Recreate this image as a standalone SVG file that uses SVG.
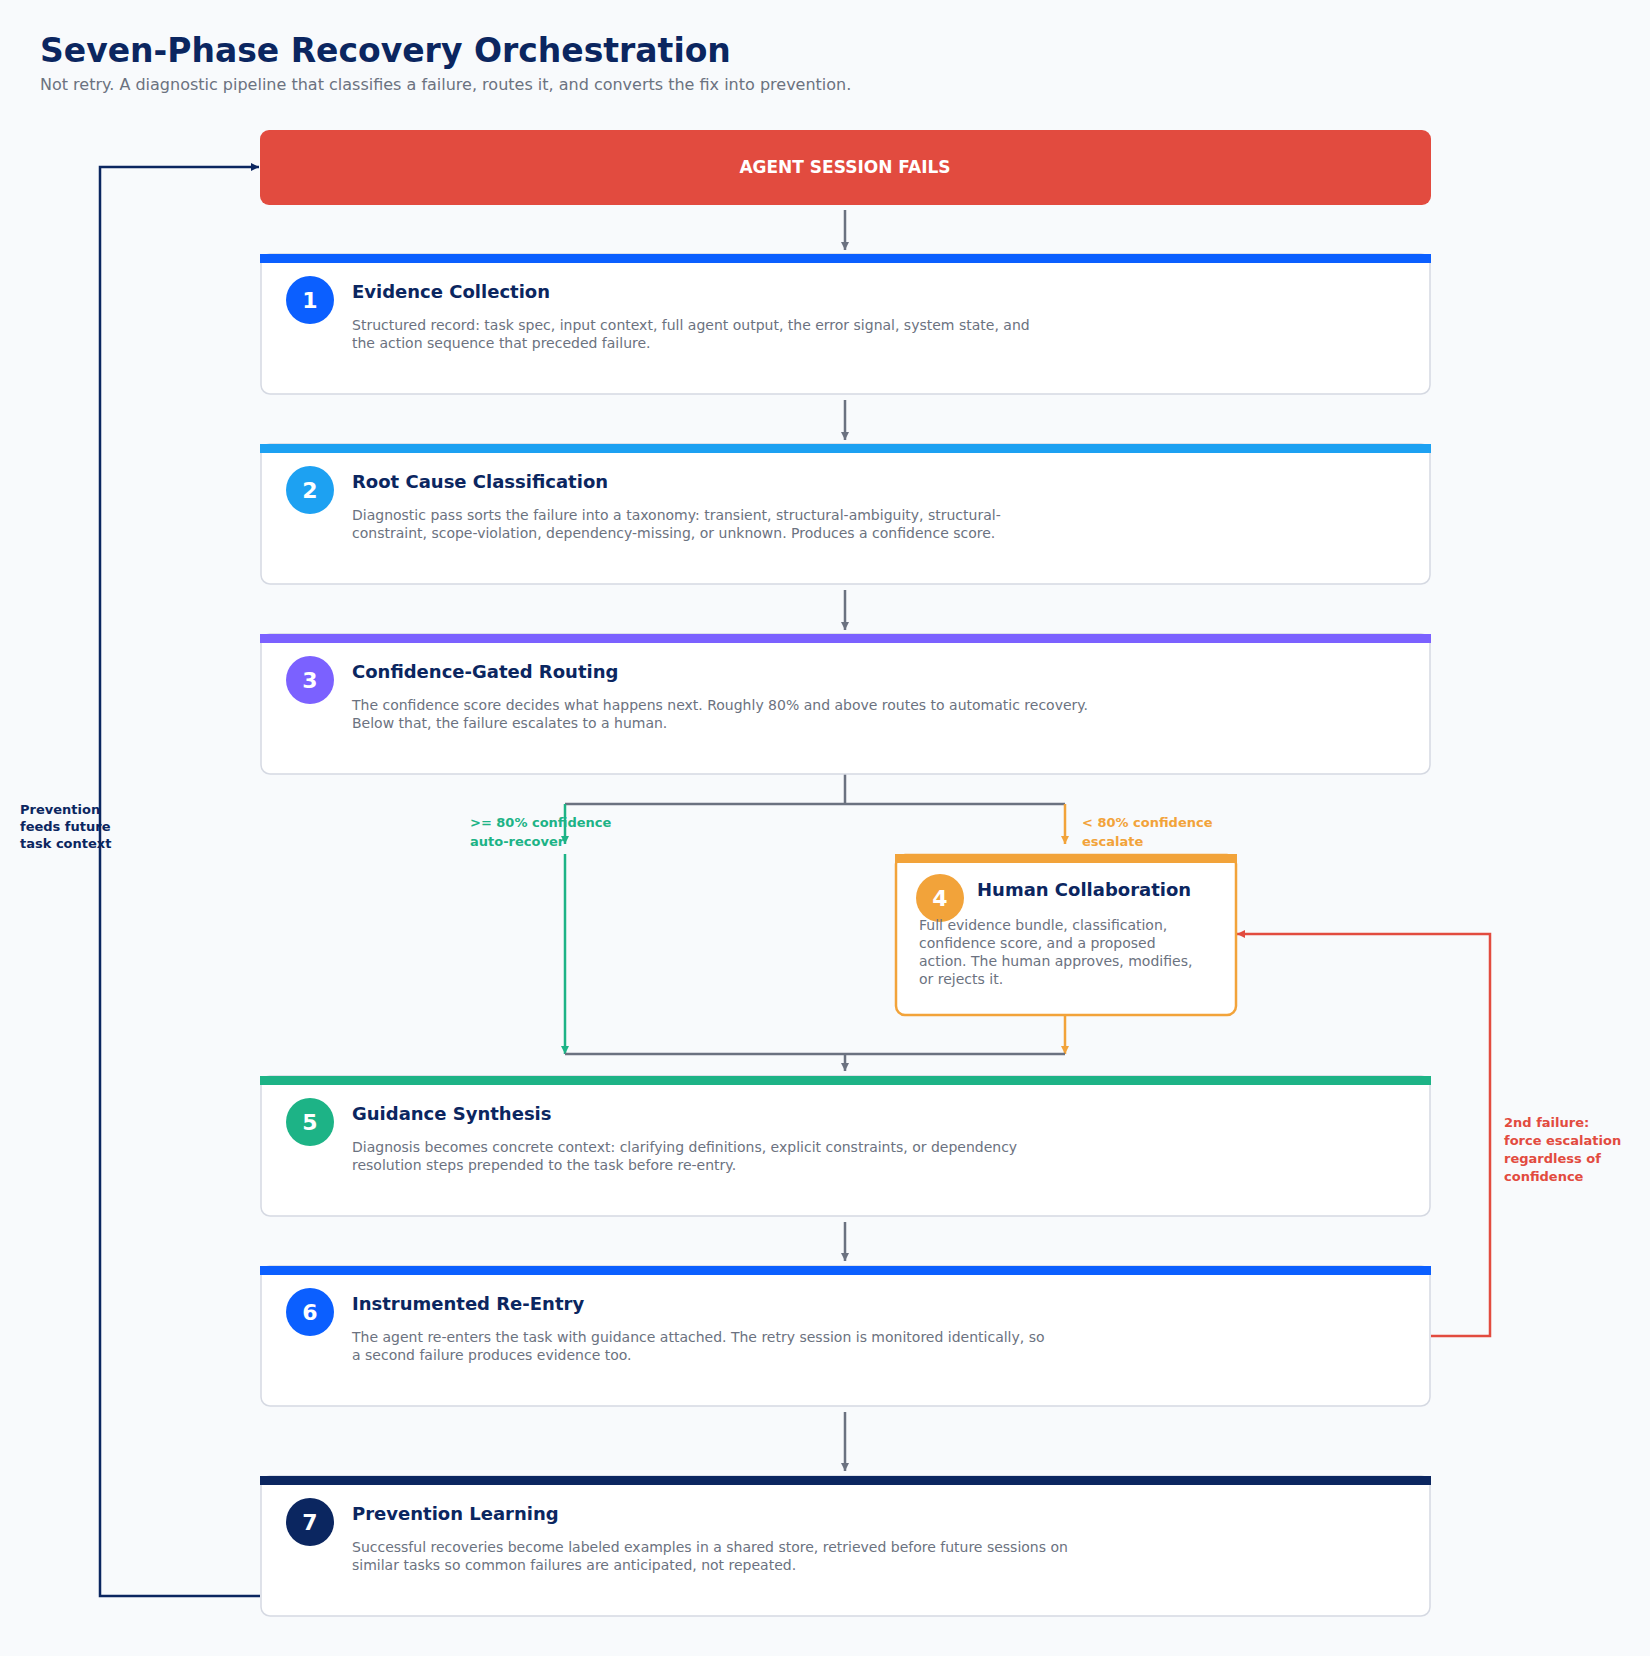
<svg xmlns="http://www.w3.org/2000/svg" width="1650" height="1656" viewBox="0 0 1650 1656">
<style>
text{font-family:"DejaVu Sans","Noto Sans",sans-serif}
.card{fill:#fff;stroke:#d5d9e2;stroke-width:1.5}
.ttl{font-size:18px;font-weight:bold;fill:#0b2660}
.dsc{font-size:14px;fill:#6b7280}
.num{font-size:22px;font-weight:bold;fill:#fff}
.g{stroke:#6b7280;stroke-width:2.5;fill:none}
</style>
<defs>
<marker id="ag" viewBox="0 0 10 10" refX="10" refY="5" markerWidth="8" markerHeight="8" markerUnits="userSpaceOnUse" orient="auto"><path d="M0,0L10,5L0,10z" fill="#6b7280"/></marker>
<marker id="agr" viewBox="0 0 10 10" refX="10" refY="5" markerWidth="8" markerHeight="8" markerUnits="userSpaceOnUse" orient="auto"><path d="M0,0L10,5L0,10z" fill="#1db386"/></marker>
<marker id="ao" viewBox="0 0 10 10" refX="10" refY="5" markerWidth="8" markerHeight="8" markerUnits="userSpaceOnUse" orient="auto"><path d="M0,0L10,5L0,10z" fill="#f2a33a"/></marker>
<marker id="ar" viewBox="0 0 10 10" refX="10" refY="5" markerWidth="8" markerHeight="8" markerUnits="userSpaceOnUse" orient="auto"><path d="M0,0L10,5L0,10z" fill="#e24b3f"/></marker>
<marker id="an" viewBox="0 0 10 10" refX="10" refY="5" markerWidth="8" markerHeight="8" markerUnits="userSpaceOnUse" orient="auto"><path d="M0,0L10,5L0,10z" fill="#0b2660"/></marker>
</defs>
<rect width="1650" height="1656" fill="#f8fafc"/>
<text x="40" y="62" font-size="33" font-weight="bold" fill="#0b2660">Seven-Phase Recovery Orchestration</text>
<text x="40" y="90" font-size="16" fill="#6b7280">Not retry. A diagnostic pipeline that classifies a failure, routes it, and converts the fix into prevention.</text>

<g id="connectors">
<path class="g" d="M845 210V250" marker-end="url(#ag)"/>
<path class="g" d="M845 400V440" marker-end="url(#ag)"/>
<path class="g" d="M845 590V630" marker-end="url(#ag)"/>
<path class="g" d="M845 773V804M565 804H1065"/>
<path d="M565 804V844" stroke="#1db386" stroke-width="2.5" fill="none" marker-end="url(#agr)"/>
<path d="M565 854V1054" stroke="#1db386" stroke-width="2.5" fill="none" marker-end="url(#agr)"/>
<path d="M1065 804V844" stroke="#f2a33a" stroke-width="2.5" fill="none" marker-end="url(#ao)"/>
<path d="M1065 1015V1054" stroke="#f2a33a" stroke-width="2.5" fill="none" marker-end="url(#ao)"/>
<path class="g" d="M565 1054H1065"/>
<path class="g" d="M845 1054V1071" marker-end="url(#ag)"/>
<path class="g" d="M845 1222V1261" marker-end="url(#ag)"/>
<path class="g" d="M845 1412V1471" marker-end="url(#ag)"/>
<path d="M1431 1336H1490V934H1237" stroke="#e24b3f" stroke-width="2.5" fill="none" marker-end="url(#ar)"/>
<path d="M260 1596H100V167H259" stroke="#0b2660" stroke-width="2.5" fill="none" marker-end="url(#an)"/>
<text x="470" y="827" font-size="13" font-weight="bold" fill="#1db386">&gt;= 80% confidence</text>
<text x="470" y="846" font-size="13" font-weight="bold" fill="#1db386">auto-recover</text>
<text x="1082" y="827" font-size="13" font-weight="bold" fill="#f2a33a">&lt; 80% confidence</text>
<text x="1082" y="846" font-size="13" font-weight="bold" fill="#f2a33a">escalate</text>
<text font-size="13" font-weight="bold" fill="#e24b3f"><tspan x="1504" y="1127">2nd failure:</tspan><tspan x="1504" y="1145">force escalation</tspan><tspan x="1504" y="1163">regardless of</tspan><tspan x="1504" y="1181">confidence</tspan></text>
<text font-size="13" font-weight="bold" fill="#0b2660"><tspan x="20" y="814">Prevention</tspan><tspan x="20" y="831">feeds future</tspan><tspan x="20" y="848">task context</tspan></text>
</g>

<g id="start">
<rect x="260" y="130" width="1171" height="75" rx="9" fill="#e24b3f"/>
<text x="845" y="173" text-anchor="middle" font-size="17" font-weight="bold" fill="#fff">AGENT SESSION FAILS</text>
</g>

<g id="phase1">
<rect class="card" x="261" y="254" width="1169" height="140" rx="9"/>
<rect x="260" y="254" width="1171" height="9" fill="#0b5fff"/>
<circle cx="310" cy="300" r="24" fill="#0b5fff"/><text class="num" x="310" y="308" text-anchor="middle">1</text>
<text class="ttl" x="352" y="298">Evidence Collection</text>
<text class="dsc" x="352" y="330">Structured record: task spec, input context, full agent output, the error signal, system state, and</text>
<text class="dsc" x="352" y="348">the action sequence that preceded failure.</text>
</g>
<g id="phase2">
<rect class="card" x="261" y="444" width="1169" height="140" rx="9"/>
<rect x="260" y="444" width="1171" height="9" fill="#1da1f2"/>
<circle cx="310" cy="490" r="24" fill="#1da1f2"/><text class="num" x="310" y="498" text-anchor="middle">2</text>
<text class="ttl" x="352" y="488">Root Cause Classification</text>
<text class="dsc" x="352" y="520">Diagnostic pass sorts the failure into a taxonomy: transient, structural-ambiguity, structural-</text>
<text class="dsc" x="352" y="538">constraint, scope-violation, dependency-missing, or unknown. Produces a confidence score.</text>
</g>
<g id="phase3">
<rect class="card" x="261" y="634" width="1169" height="140" rx="9"/>
<rect x="260" y="634" width="1171" height="9" fill="#7b61ff"/>
<circle cx="310" cy="680" r="24" fill="#7b61ff"/><text class="num" x="310" y="688" text-anchor="middle">3</text>
<text class="ttl" x="352" y="678">Confidence-Gated Routing</text>
<text class="dsc" x="352" y="710">The confidence score decides what happens next. Roughly 80% and above routes to automatic recovery.</text>
<text class="dsc" x="352" y="728">Below that, the failure escalates to a human.</text>
</g>
<g id="phase4">
<rect x="896" y="855" width="340" height="160" rx="9" fill="#fff" stroke="#f2a33a" stroke-width="2.5"/>
<rect x="895" y="854" width="342" height="9" fill="#f2a33a"/>
<circle cx="940" cy="898" r="24" fill="#f2a33a"/><text class="num" x="940" y="906" text-anchor="middle">4</text>
<text class="ttl" x="977" y="896">Human Collaboration</text>
<text class="dsc"><tspan x="919" y="930">Full evidence bundle, classification,</tspan><tspan x="919" y="948">confidence score, and a proposed</tspan><tspan x="919" y="966">action. The human approves, modifies,</tspan><tspan x="919" y="984">or rejects it.</tspan></text>
</g>
<g id="phase5">
<rect class="card" x="261" y="1076" width="1169" height="140" rx="9"/>
<rect x="260" y="1076" width="1171" height="9" fill="#1db386"/>
<circle cx="310" cy="1122" r="24" fill="#1db386"/><text class="num" x="310" y="1130" text-anchor="middle">5</text>
<text class="ttl" x="352" y="1120">Guidance Synthesis</text>
<text class="dsc" x="352" y="1152">Diagnosis becomes concrete context: clarifying definitions, explicit constraints, or dependency</text>
<text class="dsc" x="352" y="1170">resolution steps prepended to the task before re-entry.</text>
</g>
<g id="phase6">
<rect class="card" x="261" y="1266" width="1169" height="140" rx="9"/>
<rect x="260" y="1266" width="1171" height="9" fill="#0b5fff"/>
<circle cx="310" cy="1312" r="24" fill="#0b5fff"/><text class="num" x="310" y="1320" text-anchor="middle">6</text>
<text class="ttl" x="352" y="1310">Instrumented Re-Entry</text>
<text class="dsc" x="352" y="1342">The agent re-enters the task with guidance attached. The retry session is monitored identically, so</text>
<text class="dsc" x="352" y="1360">a second failure produces evidence too.</text>
</g>
<g id="phase7">
<rect class="card" x="261" y="1476" width="1169" height="140" rx="9"/>
<rect x="260" y="1476" width="1171" height="9" fill="#0b2660"/>
<circle cx="310" cy="1522" r="24" fill="#0b2660"/><text class="num" x="310" y="1530" text-anchor="middle">7</text>
<text class="ttl" x="352" y="1520">Prevention Learning</text>
<text class="dsc" x="352" y="1552">Successful recoveries become labeled examples in a shared store, retrieved before future sessions on</text>
<text class="dsc" x="352" y="1570">similar tasks so common failures are anticipated, not repeated.</text>
</g>
</svg>
